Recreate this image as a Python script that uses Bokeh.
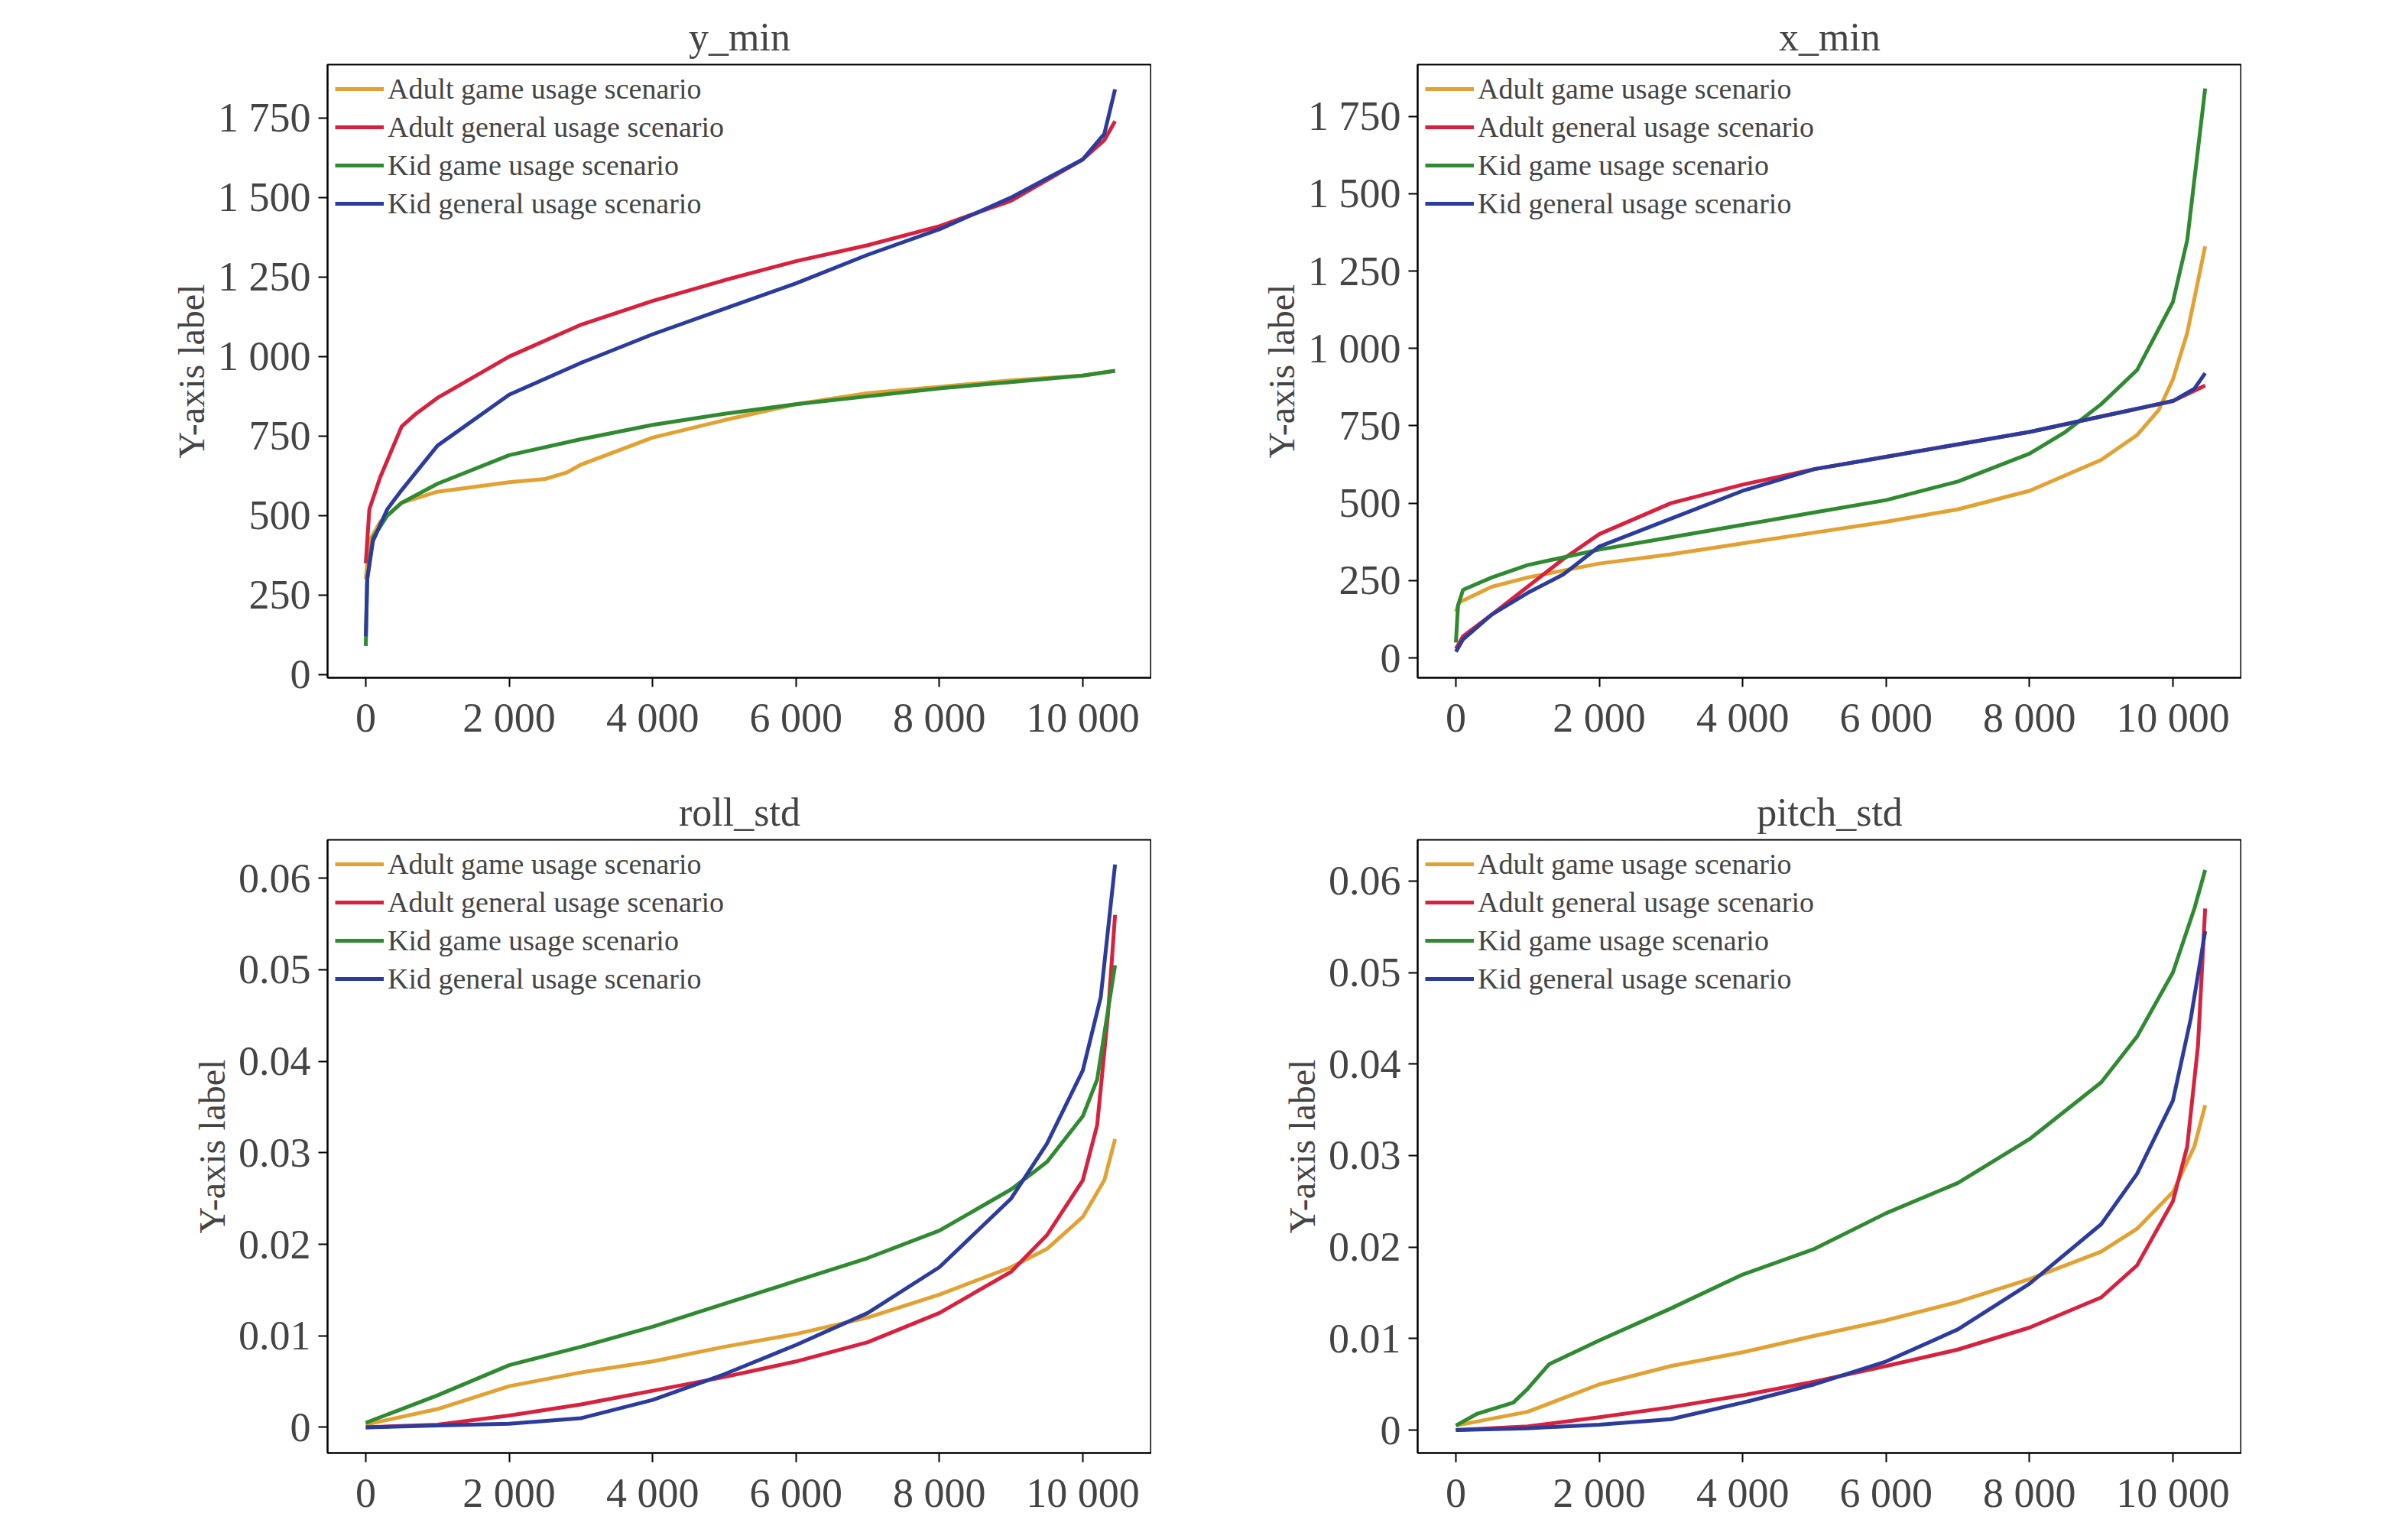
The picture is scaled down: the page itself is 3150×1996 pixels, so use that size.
from bokeh.plotting import figure
from bokeh.layouts import column, row
from bokeh.models import FixedTicker, CustomJSTickFormatter, Range1d, Legend
from bokeh.embed import file_html
from bokeh.resources import INLINE

labels = ["Adult game usage scenario", "Adult general usage scenario", "Kid game usage scenario", "Kid general usage scenario"]
colors = ["#E2A233", "#D7223F", "#2F8A32", "#2C3C9C"]

# y_min
ymin_ag_x = [0, 50, 200, 500, 1000, 2000, 2500, 2800, 3000, 4000, 5000, 6000, 7000, 8000, 9000, 10000, 10450]
ymin_ag_y = [300, 420, 480, 540, 575, 605, 615, 635, 660, 745, 800, 850, 885, 905, 925, 940, 955]
ymin_ae_x = [0, 50, 200, 500, 700, 1000, 2000, 3000, 4000, 5000, 6000, 7000, 8000, 9000, 10000, 10300, 10450]
ymin_ae_y = [350, 520, 620, 780, 820, 870, 1000, 1100, 1175, 1240, 1300, 1350, 1410, 1490, 1620, 1680, 1740]
ymin_kg_x = [0, 20, 100, 300, 500, 1000, 2000, 3000, 4000, 5000, 6000, 7000, 8000, 9000, 10000, 10450]
ymin_kg_y = [90, 300, 430, 500, 540, 600, 690, 740, 785, 820, 850, 875, 900, 920, 940, 955]
ymin_ke_x = [0, 20, 100, 300, 500, 1000, 2000, 3000, 4000, 5000, 6000, 7000, 8000, 9000, 10000, 10300, 10450]
ymin_ke_y = [120, 300, 420, 520, 580, 720, 880, 980, 1070, 1150, 1230, 1320, 1400, 1500, 1620, 1700, 1840]

# x_min
xmin_ag_x = [0, 50, 500, 1000, 2000, 3000, 4000, 5000, 6000, 7000, 8000, 9000, 9500, 9800, 10000, 10200, 10450]
xmin_ag_y = [150, 180, 230, 260, 305, 335, 370, 405, 440, 480, 540, 640, 720, 800, 900, 1050, 1330]
xmin_ae_x = [0, 100, 500, 1000, 1500, 2000, 3000, 4000, 5000, 6000, 7000, 8000, 9000, 10000, 10450]
xmin_ae_y = [30, 70, 140, 230, 320, 400, 500, 560, 610, 650, 690, 730, 780, 830, 880]
xmin_kg_x = [0, 30, 100, 500, 1000, 2000, 3000, 4000, 5000, 6000, 7000, 8000, 8500, 9000, 9500, 10000, 10200, 10450]
xmin_kg_y = [50, 170, 220, 260, 300, 350, 390, 430, 470, 510, 570, 660, 730, 820, 930, 1150, 1350, 1840]
xmin_ke_x = [0, 100, 500, 1000, 1500, 2000, 3000, 4000, 5000, 6000, 7000, 8000, 9000, 10000, 10300, 10450]
xmin_ke_y = [20, 60, 140, 210, 270, 360, 450, 540, 610, 650, 690, 730, 780, 830, 870, 920]

# roll_std
roll_ag_x = [0, 1000, 2000, 3000, 4000, 5000, 6000, 7000, 8000, 9000, 9500, 10000, 10300, 10450]
roll_ag_y = [0.0003, 0.002, 0.0045, 0.006, 0.0072, 0.0088, 0.0102, 0.012, 0.0145, 0.0175, 0.0195, 0.023, 0.027, 0.0315]
roll_ae_x = [0, 1000, 2000, 3000, 4000, 5000, 6000, 7000, 8000, 9000, 9500, 10000, 10200, 10350, 10450]
roll_ae_y = [0, 0.0003, 0.0013, 0.0025, 0.004, 0.0055, 0.0072, 0.0093, 0.0125, 0.017, 0.021, 0.027, 0.033, 0.045, 0.056]
roll_kg_x = [0, 500, 1000, 2000, 3000, 4000, 5000, 6000, 7000, 8000, 9000, 9500, 10000, 10200, 10450]
roll_kg_y = [0.0005, 0.002, 0.0035, 0.0068, 0.0088, 0.011, 0.0135, 0.016, 0.0185, 0.0215, 0.026, 0.029, 0.034, 0.038, 0.0505]
roll_ke_x = [0, 1000, 2000, 3000, 4000, 5000, 6000, 7000, 8000, 9000, 9500, 10000, 10250, 10450]
roll_ke_y = [0, 0.0002, 0.0004, 0.001, 0.003, 0.0058, 0.009, 0.0125, 0.0175, 0.025, 0.031, 0.039, 0.047, 0.0615]

# pitch_std
pitch_ag_x = [0, 1000, 2000, 3000, 4000, 5000, 6000, 7000, 8000, 9000, 9500, 10000, 10300, 10450]
pitch_ag_y = [0.0005, 0.002, 0.005, 0.007, 0.0085, 0.0103, 0.012, 0.014, 0.0165, 0.0195, 0.022, 0.026, 0.031, 0.0355]
pitch_ae_x = [0, 1000, 2000, 3000, 4000, 5000, 6000, 7000, 8000, 9000, 9500, 10000, 10200, 10350, 10450]
pitch_ae_y = [0, 0.0004, 0.0014, 0.0025, 0.0038, 0.0053, 0.007, 0.0088, 0.0112, 0.0145, 0.018, 0.025, 0.031, 0.042, 0.057]
pitch_kg_x = [0, 300, 800, 1000, 1300, 2000, 3000, 4000, 5000, 6000, 7000, 8000, 9000, 9500, 10000, 10300, 10450]
pitch_kg_y = [0.0005, 0.0018, 0.003, 0.0045, 0.0072, 0.0098, 0.0133, 0.017, 0.0198, 0.0237, 0.027, 0.0318, 0.038, 0.043, 0.05, 0.057, 0.0612]
pitch_ke_x = [0, 1000, 2000, 3000, 4000, 5000, 6000, 7000, 8000, 9000, 9500, 10000, 10250, 10450]
pitch_ke_y = [0, 0.0002, 0.0006, 0.0012, 0.003, 0.005, 0.0075, 0.011, 0.016, 0.0225, 0.028, 0.036, 0.045, 0.0545]

x_ticks = [0, 2000, 4000, 6000, 8000, 10000]
big_ticks = [0, 250, 500, 750, 1000, 1250, 1500, 1750]
small_ticks = [0, 0.01, 0.02, 0.03, 0.04, 0.05, 0.06]

FONT = "Liberation Serif"
int_fmt = CustomJSTickFormatter(code="var s=Math.round(tick).toString(); return s.replace(/\\B(?=(\\d{3})+(?!\\d))/g,' ');")
dec_fmt = CustomJSTickFormatter(code="if (Math.abs(tick)<1e-9) return '0'; return tick.toFixed(2);")

def make(title, series, yr, yticks, yfmt, mbl, mbr, mbt, mbb):
    p = figure(frame_width=1078, frame_height=802, output_backend="svg", toolbar_location=None,
               min_border_left=mbl, min_border_right=mbr, min_border_top=mbt, min_border_bottom=mbb,
               x_range=Range1d(-533, 10960), y_range=Range1d(*yr))
    p.title.text = title
    p.title.align = "center"
    p.title.text_font = FONT
    p.title.text_font_size = "52px"
    p.title.text_font_style = "normal"
    p.title.standoff = 16
    p.grid.visible = False
    p.outline_line_color = "black"
    p.outline_line_width = 2
    p.xaxis.ticker = FixedTicker(ticks=x_ticks)
    p.xaxis.formatter = int_fmt
    p.yaxis.ticker = FixedTicker(ticks=yticks)
    p.yaxis.formatter = yfmt
    p.yaxis.axis_label = "Y-axis label"
    for ax in (p.xaxis[0], p.yaxis[0]):
        ax.major_label_text_font = FONT
        ax.major_label_text_font_size = "54px"
        ax.axis_label_text_font = FONT
        ax.axis_label_text_font_size = "48px"
        ax.axis_label_text_font_style = "normal"
        ax.minor_tick_line_color = None
        ax.major_tick_out = 12
        ax.major_tick_in = 0
        ax.major_tick_line_width = 2
        ax.axis_line_width = 2
        ax.major_label_standoff = 10
    items = []
    for (xs, ys), lab, c in zip(series, labels, colors):
        r = p.line(xs, ys, line_color=c, line_width=5)
        items.append((lab, [r]))
    leg = Legend(items=items, location="top_left")
    leg.label_text_font = FONT
    leg.label_text_font_size = "38px"
    leg.border_line_color = None
    leg.background_fill_alpha = 0
    leg.glyph_width = 64
    leg.glyph_height = 40
    leg.label_height = 40
    leg.spacing = 6
    leg.padding = 8
    leg.margin = 10
    p.add_layout(leg)
    return p

p1 = make("y_min", [(ymin_ag_x, ymin_ag_y), (ymin_ae_x, ymin_ae_y), (ymin_kg_x, ymin_kg_y), (ymin_ke_x, ymin_ke_y)],
          (-10, 1918), big_ticks, int_fmt, 428, 0, 84, 130)
p2 = make("x_min", [(xmin_ag_x, xmin_ag_y), (xmin_ae_x, xmin_ae_y), (xmin_kg_x, xmin_kg_y), (xmin_ke_x, xmin_ke_y)],
          (-64, 1917), big_ticks, int_fmt, 348, 0, 84, 130)
p3 = make("roll_std", [(roll_ag_x, roll_ag_y), (roll_ae_x, roll_ae_y), (roll_kg_x, roll_kg_y), (roll_ke_x, roll_ke_y)],
          (-0.0028, 0.0642), small_ticks, dec_fmt, 428, 0, 82, 72)
p4 = make("pitch_std", [(pitch_ag_x, pitch_ag_y), (pitch_ae_x, pitch_ae_y), (pitch_kg_x, pitch_kg_y), (pitch_ke_x, pitch_ke_y)],
          (-0.0025, 0.0645), small_ticks, dec_fmt, 348, 0, 82, 72)

layout = column(row(p1, p2), row(p3, p4))
open("out.html", "w").write(file_html(layout, INLINE))
